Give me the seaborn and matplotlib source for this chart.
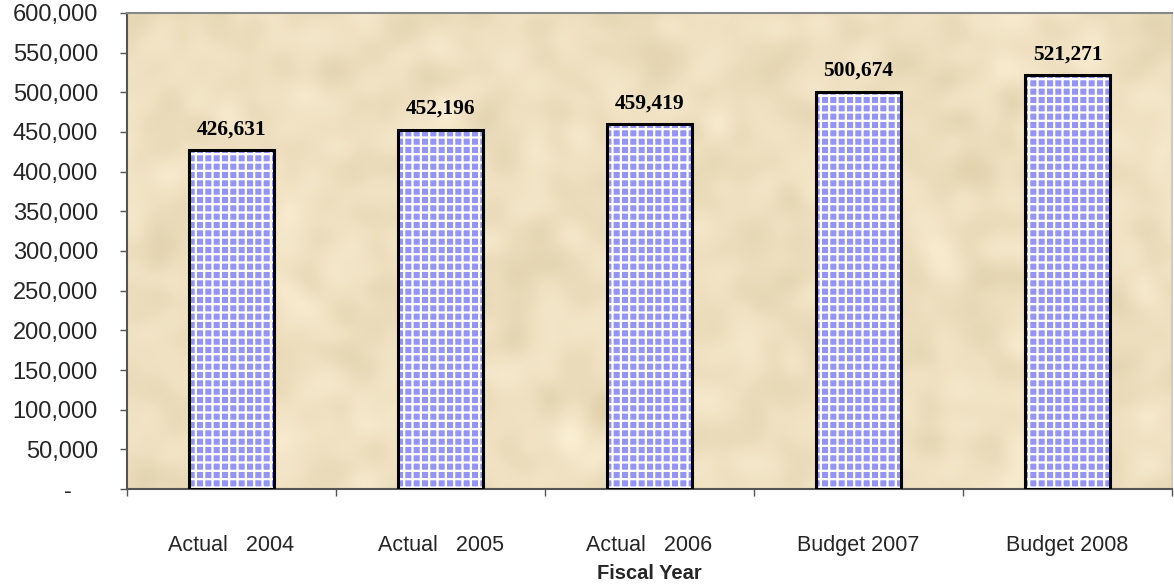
import numpy as np
import pandas as pd
import matplotlib
matplotlib.use("Agg")
import matplotlib.pyplot as plt
from matplotlib.patches import Rectangle
from matplotlib.ticker import FuncFormatter, FixedLocator
import seaborn as sns

# Expenditure by fiscal year
categories = ["Actual   2004", "Actual   2005", "Actual   2006", "Budget 2007", "Budget 2008"]
values = [426631, 452196, 459419, 500674, 521271]
y_ticks = list(range(0, 600001, 50000))

sns.set_theme(style="white")
plt.rcParams["font.family"] = ["Liberation Sans", "DejaVu Sans"]
plt.rcParams["hatch.linewidth"] = 1.6

df = pd.DataFrame({"year": categories, "amount": values})

fig = plt.figure(figsize=(11.74, 5.85), dpi=100)
ax = fig.add_axes([0.1082, 0.164, 0.8901, 0.814])

# parchment-like backdrop for the plot area
rng = np.random.default_rng(7)
h, w = 160, 340
noise = rng.normal(size=(h, w))
fy = np.fft.fftfreq(h)[:, None]
fx = np.fft.fftfreq(w)[None, :]
smooth = np.real(np.fft.ifft2(np.fft.fft2(noise) * np.exp(-(fx**2 + fy**2) * 250)))
smooth = (smooth - smooth.mean()) / smooth.std()
base = np.array([238, 224, 192]) / 255.0
tex = np.clip(base[None, None, :] + smooth[:, :, None] * np.array([0.013, 0.015, 0.020]), 0, 1)
ax.imshow(tex, extent=(0, 1, 0, 1), transform=ax.transAxes, aspect="auto",
          zorder=0, interpolation="bicubic")

sns.barplot(data=df, x="year", y="amount", ax=ax, width=0.41,
            color="#9494f6", saturation=1, edgecolor="white", linewidth=0,
            hatch="++", zorder=2)

# black outline for each bar
for p in list(ax.patches):
    ax.add_patch(Rectangle(p.get_xy(), p.get_width(), p.get_height(), fill=False,
                           edgecolor="black", linewidth=2.2, zorder=3))

# value labels above the bars
for i, v in enumerate(values):
    ax.annotate(f"{v:,}", (i, v), xytext=(0, 8), textcoords="offset points",
                ha="center", va="bottom", fontsize=15.5, fontweight="bold",
                family=["Liberation Serif", "DejaVu Serif"], color="black", zorder=4)

ax.set_xlim(-0.5, len(categories) - 0.5)
ax.set_ylim(0, 600000)
ax.set_yticks(y_ticks)
ax.yaxis.set_major_formatter(FuncFormatter(lambda v, _: "-    " if v == 0 else f"{v:,.0f}"))

# category ticks sit on the boundaries, labels at the centres
ax.xaxis.set_major_locator(FixedLocator(np.arange(-0.5, len(categories), 1.0)))
ax.xaxis.set_major_formatter(FuncFormatter(lambda v, _: ""))
ax.xaxis.set_minor_locator(FixedLocator(np.arange(len(categories))))
ax.set_xticks(np.arange(len(categories)), categories, minor=True)

ax.tick_params(axis="y", which="major", direction="out", length=5, width=1,
               color="#555555", labelsize=17, pad=16, left=True)
ax.tick_params(axis="x", which="major", direction="out", length=5, width=1,
               color="#555555", bottom=True)
ax.tick_params(axis="x", which="minor", length=0, labelsize=15.5, pad=33, bottom=True)

for side in ["left", "bottom", "top", "right"]:
    ax.spines[side].set_visible(True)
    ax.spines[side].set_color("#888888")
    ax.spines[side].set_linewidth(1.5)
ax.spines["left"].set_color("#555555")
ax.spines["bottom"].set_color("#555555")
ax.spines["right"].set_color("#cccccc")

ax.set_ylabel("")
ax.set_xlabel("Fiscal Year", fontsize=14.5, fontweight="bold", labelpad=6)
ax.grid(False)

fig.savefig("out.png", dpi=100, facecolor="white")
